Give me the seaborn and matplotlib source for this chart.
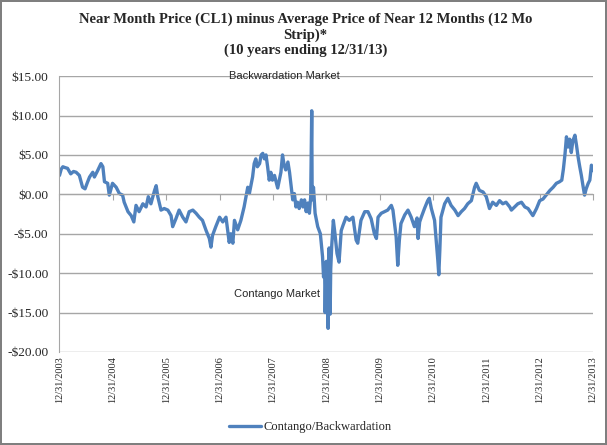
import pandas as pd
import numpy as np
import matplotlib
matplotlib.use('Agg')
import matplotlib.pyplot as plt
import matplotlib.dates as mdates
from matplotlib.ticker import FuncFormatter
import seaborn as sns

# near month minus 12 month strip
dates = [
    "2003-12-31", "2004-01-12", "2004-01-23", "2004-02-06", "2004-02-24", "2004-03-17",
    "2004-04-05", "2004-04-23", "2004-05-15", "2004-06-06", "2004-06-23", "2004-07-09",
    "2004-07-24", "2004-08-15", "2004-08-26", "2004-09-17", "2004-10-10", "2004-10-23",
    "2004-11-03", "2004-11-25", "2004-12-06", "2004-12-28", "2005-01-22", "2005-02-13",
    "2005-03-07", "2005-03-18", "2005-04-13", "2005-05-05", "2005-05-23", "2005-06-07",
    "2005-06-28", "2005-07-24", "2005-08-15", "2005-08-30", "2005-09-17", "2005-10-12",
    "2005-10-23", "2005-11-03", "2005-11-25", "2005-12-17", "2006-01-11", "2006-02-02",
    "2006-02-13", "2006-03-07", "2006-03-29", "2006-04-23", "2006-05-15", "2006-06-06",
    "2006-07-01", "2006-07-23", "2006-08-14", "2006-09-05", "2006-09-30", "2006-10-22",
    "2006-11-02", "2006-11-13", "2006-12-05", "2006-12-31", "2007-01-22", "2007-02-13",
    "2007-03-07", "2007-03-18", "2007-04-01", "2007-04-12", "2007-05-04", "2007-05-26",
    "2007-06-17", "2007-07-12", "2007-07-23", "2007-08-14", "2007-08-25", "2007-09-05",
    "2007-09-16", "2007-10-01", "2007-10-12", "2007-10-23", "2007-11-03", "2007-11-14",
    "2007-11-25", "2007-12-06", "2007-12-17", "2007-12-28", "2008-01-11", "2008-02-02",
    "2008-02-24", "2008-03-06", "2008-03-17", "2008-03-28", "2008-04-12", "2008-04-23",
    "2008-05-04", "2008-05-15", "2008-05-26", "2008-06-06", "2008-06-17", "2008-06-28",
    "2008-07-13", "2008-07-24", "2008-08-04", "2008-08-15", "2008-08-26", "2008-09-06",
    "2008-09-15", "2008-09-22", "2008-09-25", "2008-10-04", "2008-10-15", "2008-11-02",
    "2008-11-20", "2008-12-05", "2008-12-12", "2008-12-19", "2008-12-23", "2008-12-27",
    "2008-12-31", "2009-01-04", "2009-01-08", "2009-01-12", "2009-01-15", "2009-01-19",
    "2009-01-23", "2009-01-26", "2009-01-30", "2009-02-06", "2009-02-17", "2009-02-28",
    "2009-03-14", "2009-03-28", "2009-04-12", "2009-04-23", "2009-05-15", "2009-06-06",
    "2009-07-01", "2009-07-23", "2009-08-03", "2009-08-25", "2009-09-20", "2009-10-12",
    "2009-11-03", "2009-11-25", "2009-12-09", "2009-12-20", "2010-01-11", "2010-02-02",
    "2010-02-24", "2010-03-21", "2010-04-01", "2010-04-23", "2010-05-04", "2010-05-15",
    "2010-05-26", "2010-06-21", "2010-07-13", "2010-08-04", "2010-08-26", "2010-09-13",
    "2010-09-20", "2010-10-01", "2010-10-12", "2010-11-03", "2010-11-25", "2010-12-06",
    "2010-12-20", "2011-01-11", "2011-01-22", "2011-02-02", "2011-02-09", "2011-02-16",
    "2011-02-24", "2011-03-21", "2011-04-12", "2011-05-04", "2011-05-30", "2011-06-21",
    "2011-07-13", "2011-08-04", "2011-08-26", "2011-09-20", "2011-10-12", "2011-10-23",
    "2011-11-14", "2011-12-09", "2011-12-31", "2012-01-22", "2012-02-13", "2012-03-09",
    "2012-03-31", "2012-04-22", "2012-05-14", "2012-06-09", "2012-06-20", "2012-07-12",
    "2012-08-03", "2012-08-28", "2012-09-20", "2012-10-12", "2012-11-03", "2012-11-14",
    "2012-12-09", "2012-12-31", "2013-01-22", "2013-02-13", "2013-03-11", "2013-04-02",
    "2013-04-24", "2013-05-16", "2013-05-31", "2013-06-11", "2013-06-22", "2013-07-02",
    "2013-07-13", "2013-07-24", "2013-08-04", "2013-08-15", "2013-08-29", "2013-09-09",
    "2013-09-20", "2013-10-01", "2013-10-12", "2013-10-23", "2013-11-03", "2013-11-14",
    "2013-11-28", "2013-12-09", "2013-12-20", "2013-12-31",
]
spread = [
    2.4, 3.2, 3.5, 3.4, 3.3, 2.6,
    2.9, 2.8, 2.4, 0.9, 0.7, 1.5,
    2.2, 2.8, 2.2, 3.0, 3.9, 3.5,
    1.6, 1.4, -0.1, 1.4, 0.9, 0.1,
    -0.1, -1.0, -2.2, -2.7, -3.5, -1.4,
    -2.2, -1.2, -1.6, -0.3, -1.2, 0.5,
    1.1, -0.3, -2.0, -1.8, -2.0, -2.7,
    -4.1, -3.1, -2.0, -2.9, -3.5, -2.2,
    -2.0, -2.4, -2.9, -3.3, -4.6, -5.6,
    -6.7, -5.2, -4.1, -2.9, -3.5, -2.9,
    -6.1, -5.0, -6.2, -3.3, -4.5, -3.3,
    -1.6, 0.9, 0.1, 2.2, 3.9, 4.5,
    3.5, 3.9, 5.0, 5.2, 4.5, 5.0,
    3.5, 1.8, 2.8, 1.8, 2.4, 0.8,
    2.8, 5.0, 3.7, 3.1, 4.1, 2.8,
    1.1, -0.7, 0.1, -1.6, -1.0, -1.8,
    -0.7, -1.6, -0.7, -2.2, -1.1, -2.4,
    -0.3, 10.6, -0.7, 0.9, -2.4, -4.1,
    -5.0, -7.9, -10.5, -9.0, -15.0, -11.0,
    -8.5, -14.5, -10.0, -17.0, -9.0, -6.8,
    -12.0, -15.2, -9.5, -6.5, -3.3, -5.0,
    -7.5, -8.6, -4.6, -4.0, -2.9, -3.3,
    -2.9, -5.8, -6.2, -3.3, -2.2, -2.2,
    -3.1, -5.0, -5.6, -2.9, -2.4, -2.2,
    -2.0, -1.4, -2.0, -5.4, -9.0, -5.8,
    -3.7, -2.6, -2.0, -2.9, -4.1, -3.0,
    -5.6, -3.5, -2.9, -1.8, -0.8, -0.5,
    -1.8, -3.3, -5.8, -8.3, -10.2, -7.1,
    -2.9, -1.2, -0.5, -1.4, -2.0, -2.7,
    -2.2, -1.8, -1.2, -0.8, 0.9, 1.4,
    0.5, 0.3, -0.3, -1.8, -1.0, -1.4,
    -0.8, -1.2, -1.0, -1.6, -2.0, -1.6,
    -1.2, -1.0, -1.6, -1.8, -2.4, -2.7,
    -1.8, -0.8, -0.6, -0.1, 0.5, 0.9,
    1.4, 1.6, 1.8, 3.2, 5.1, 7.3,
    6.0, 7.0, 5.3, 6.8, 7.5, 6.2,
    4.7, 3.5, 2.4, 1.1, -0.1, 0.7,
    1.4, 1.8, 3.7, 3.0,
]
tick_years = list(range(2003, 2014))

df = pd.DataFrame({'Date': pd.to_datetime(dates), 'Contango/Backwardation': spread})

sns.set_style('white')
plt.rcParams['font.family'] = ['Liberation Serif', 'DejaVu Serif']

fig = plt.figure(figsize=(6.07, 4.45), dpi=100)
fig.patch.set_edgecolor('#7f7f7f')
fig.patch.set_linewidth(1.5)
ax = fig.add_axes([0.098, 0.209, 0.879, 0.62])

sns.lineplot(data=df, x='Date', y='Contango/Backwardation', ax=ax,
             color='#4F81BD', linewidth=2.4, label='Contango/Backwardation')

ax.set_xlim(pd.Timestamp('2003-12-31'), pd.Timestamp('2013-12-31'))
ax.set_ylim(-20, 15)
ax.set_yticks(np.arange(-20, 16, 5))
ax.yaxis.set_major_formatter(FuncFormatter(lambda v, p: ('-$%.2f' % abs(v)) if v < 0 else '$%.2f' % v))
ax.set_xticks([pd.Timestamp(f'{y}-12-31') for y in tick_years])
ax.xaxis.set_major_formatter(mdates.DateFormatter('%m/%d/%Y'))
ax.set_xlabel('')
ax.set_ylabel('')
ax.grid(axis='y', color='#a6a6a6', linewidth=1)
ax.grid(axis='x', visible=False)

for s in ['right', 'bottom']:
    ax.spines[s].set_visible(False)
ax.spines['left'].set_color('#a6a6a6')
# horizontal axis crosses at zero, like the original
ax.spines['top'].set_position(('data', 0))
ax.spines['top'].set_color('#a6a6a6')
ax.xaxis.set_ticks_position('both')
ax.tick_params(axis='x', direction='in', length=4, color='#a6a6a6',
               labelsize=7.5, labelrotation=90, pad=3)
for t in ax.xaxis.get_major_ticks():
    t.tick1line.set_visible(False)
ax.tick_params(axis='y', labelsize=9.6, length=3, color='#a6a6a6', pad=5)

ax.text(pd.Timestamp('2008-03-20'), 15, 'Backwardation Market', family='Liberation Sans',
        fontsize=8, ha='center', va='center', color='#262626')
ax.text(pd.Timestamp('2008-01-25'), -12.7, 'Contango Market', family='Liberation Sans',
        fontsize=8, ha='center', va='center', color='#262626')

fig.suptitle('Near Month Price (CL1) minus Average Price of Near 12 Months (12 Mo\nStrip)*\n(10 years ending 12/31/13)',
             x=0.503, y=0.972, fontsize=10.5, fontweight='bold', linespacing=1.22)

ax.legend(loc='lower center', bbox_to_anchor=(0.47, -0.335), frameon=False,
          fontsize=9, handlelength=2.5, handletextpad=0.2)

fig.savefig('out.png', dpi=100)
